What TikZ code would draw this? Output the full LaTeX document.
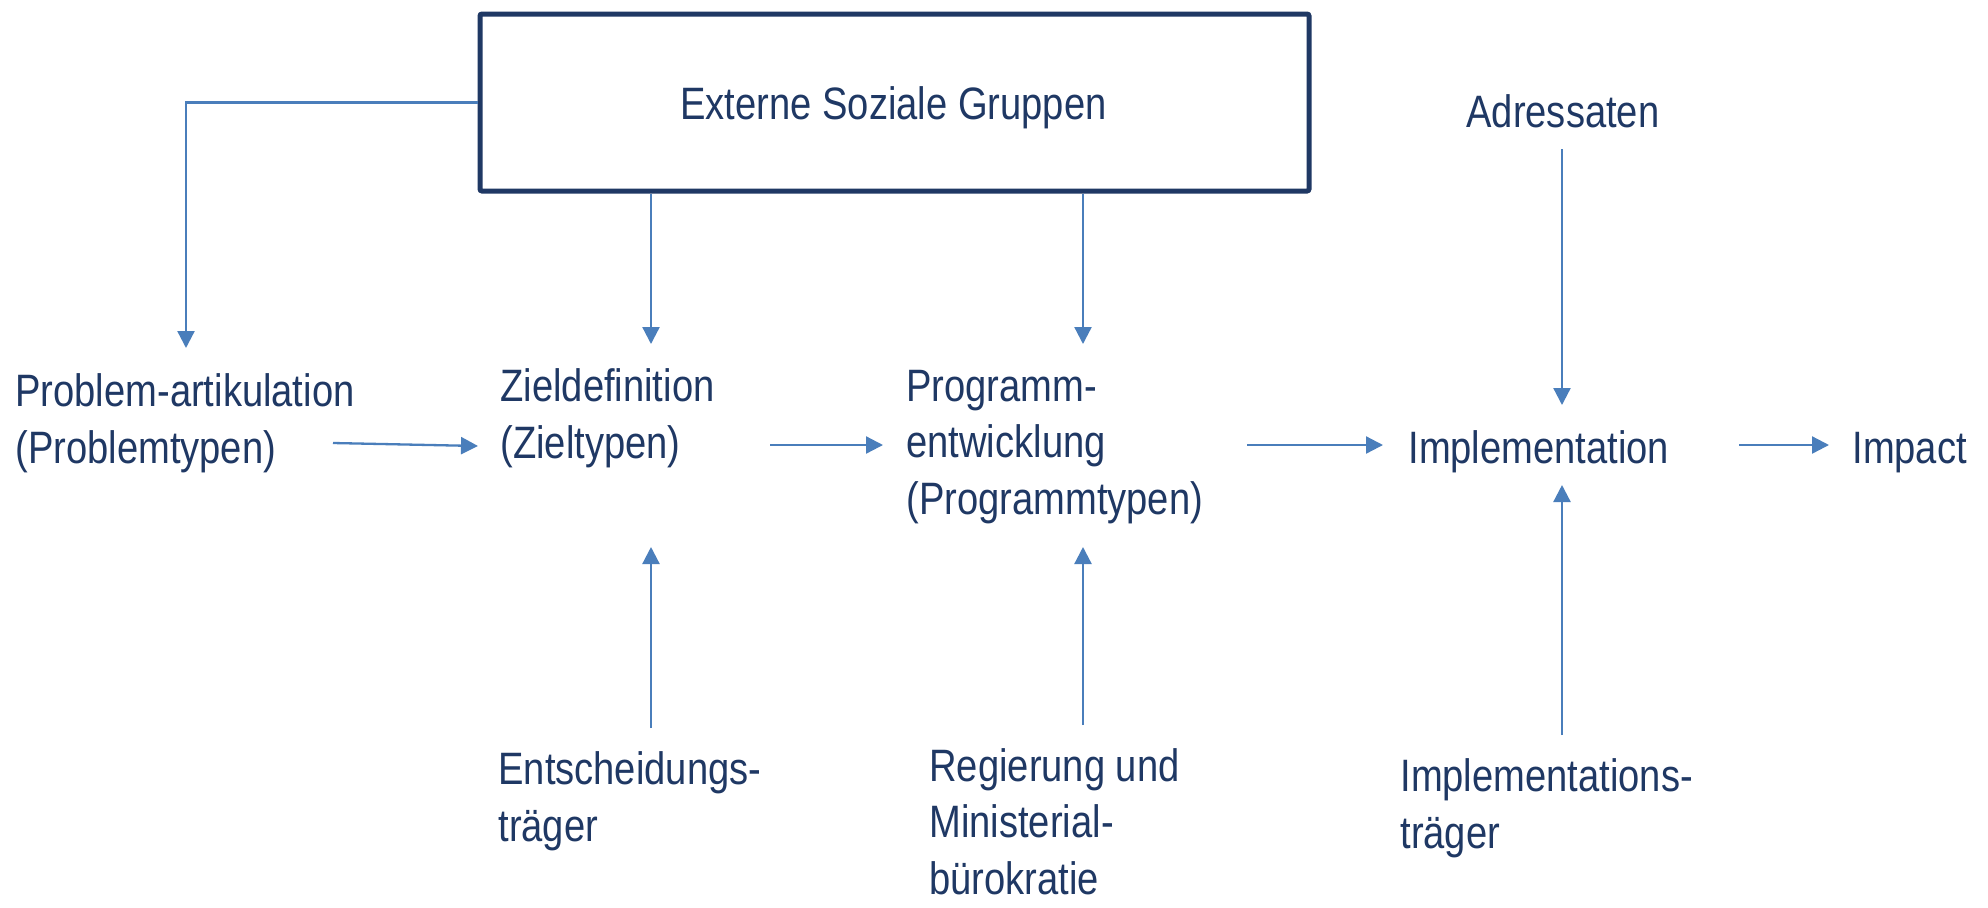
\documentclass[tikz,border=0pt]{standalone}
\usepackage{fontspec}
\setmainfont{Liberation Sans}[FakeStretch=0.84]
\usetikzlibrary{arrows.meta}
\definecolor{txtnavy}{RGB}{31,56,100}
\definecolor{arrblue}{RGB}{74,126,187}
\begin{document}
\begin{tikzpicture}[x=0.5pt,y=-0.5pt,
  lbl/.style={font=\fontsize{22.7}{28.25}\selectfont, text=txtnavy, inner sep=0pt, align=left, anchor=base west},
  arr/.style={draw=arrblue, line width=1.15pt, -{Triangle[length=8.5pt,width=8.5pt]}},
  extbox/.style={draw=txtnavy, line width=2.5pt, rounded corners=1pt, inner sep=0pt, minimum width=414.5pt, minimum height=88.5pt}]
\useasboundingbox[fill=white] (0,0) rectangle (1988,907);
% box
\node[extbox] (ext) at (894.5,102.5) {};
\node[lbl, anchor=base] (exttxt) at (893.5,119) {Externe Soziale Gruppen};
% labels (anchor = baseline of the last line)
\node[lbl] (prob) at (15,463) {Problem-artikulation\\(Problemtypen)};
\node[lbl] (ziel) at (500,458) {Zieldefinition\\(Zieltypen)};
\node[lbl] (prog) at (906,514) {Programm-\\entwicklung\\(Programmtypen)};
\node[lbl] (impl) at (1408,463) {Implementation};
\node[lbl] (impact) at (1852,463) {Impact};
\node[lbl] (adr) at (1466,127) {Adressaten};
\node[lbl] (ents) at (498,841) {Entscheidungs-\\träger};
\node[lbl] (reg) at (929,894) {Regierung und\\Ministerial-\\bürokratie};
\node[lbl] (itr) at (1400,848) {Implementations-\\träger};
% connector endpoints
\coordinate (probTop) at (186,348);
\coordinate (zielTop) at (651,344);
\coordinate (progTop) at (1083,344);
\coordinate (adrBot) at (1562,149);
\coordinate (implTop) at (1562,405);
\coordinate (implBot) at (1562,485);
\coordinate (itrTop) at (1562,735);
\coordinate (zielBot) at (651,547);
\coordinate (entsTop) at (651,728);
\coordinate (progBot) at (1083,547);
\coordinate (regTop) at (1083,725);
\coordinate (probR) at (333,443);
\coordinate (zielL) at (478,446);
\coordinate (zielR) at (770,445);
\coordinate (progL) at (883,445);
\coordinate (progR) at (1247,445);
\coordinate (implL) at (1383,445);
\coordinate (implR) at (1739,445);
\coordinate (impactL) at (1829,445);
% connectors
\draw[arr] (ext.west) -| (probTop);
\draw[arr] (ext.south -| zielTop) -- (zielTop);
\draw[arr] (ext.south -| progTop) -- (progTop);
\draw[arr] (adrBot) -- (implTop);
\draw[arr] (itrTop) -- (implBot);
\draw[arr] (entsTop) -- (zielBot);
\draw[arr] (regTop) -- (progBot);
\draw[arr] (probR) -- (zielL);
\draw[arr] (zielR) -- (progL);
\draw[arr] (progR) -- (implL);
\draw[arr] (implR) -- (impactL);
\end{tikzpicture}
\end{document}
